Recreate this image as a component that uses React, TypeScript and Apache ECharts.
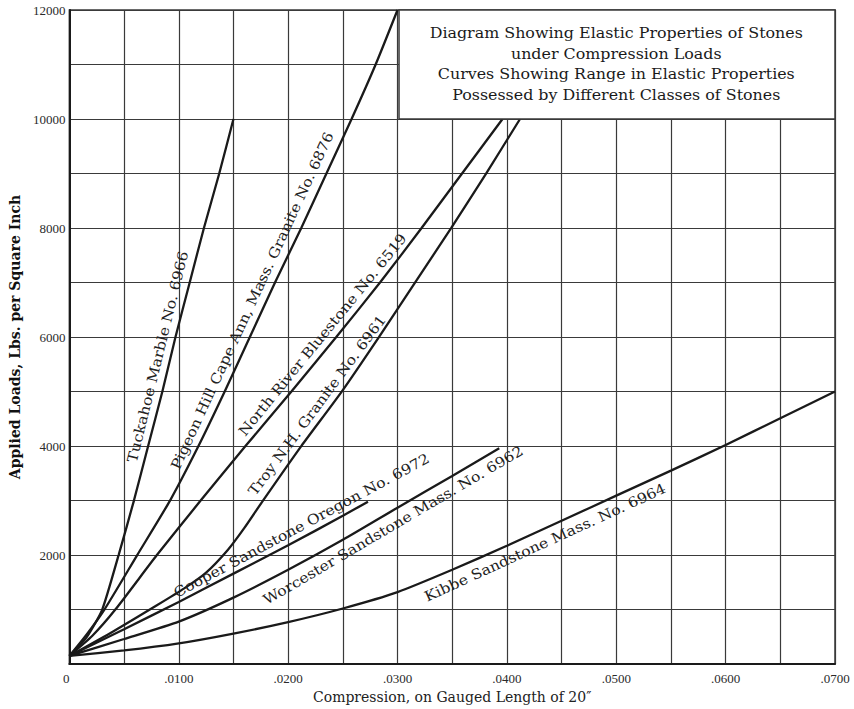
import React, { useEffect, useRef } from 'react';
import * as echarts from 'echarts';

const TITLE_LINES = [
  'Diagram Showing Elastic Properties of Stones',
  'under Compression Loads',
  'Curves Showing Range in Elastic Properties',
  'Possessed by Different Classes of Stones',
];
const X_AXIS_TITLE = 'Compression, on Gauged Length of 20\u2033';
const Y_AXIS_TITLE = 'Applied Loads, Lbs. per Square Inch';

const SERIES_NAMES = [
  'Tuckahoe Marble No. 6966',
  'Pigeon Hill Cape Ann, Mass. Granite No. 6876',
  'North River Bluestone No. 6519',
  'Troy N.H. Granite No. 6961',
  'Cooper Sandstone Oregon No. 6972',
  'Worcester Sandstone Mass. No. 6962',
  'Kibbe Sandstone Mass. No. 6964',
];

// [compression, load]
const tuckahoe: number[][] = [
  [0, 150], [0.0016, 500], [0.003, 1000], [0.0045, 2000], [0.0059, 3000], [0.0072, 4000],
  [0.0085, 5000], [0.0097, 6000], [0.011, 7000], [0.0123, 8000], [0.0137, 9000], [0.015, 10000],
];
const pigeonHill: number[][] = [
  [0, 150], [0.0016, 550], [0.0032, 1000], [0.0062, 2000], [0.0092, 3000], [0.0118, 4000],
  [0.0142, 5000], [0.0165, 6000], [0.0188, 7000], [0.0212, 8000], [0.0235, 9000],
  [0.0258, 10000], [0.028, 11000], [0.03, 12000],
];
const northRiver: number[][] = [
  [0, 150], [0.0021, 520], [0.0042, 1000], [0.008, 2000], [0.012, 3000], [0.0161, 4000],
  [0.0203, 5000], [0.0244, 6000], [0.0284, 7000], [0.0322, 8000], [0.0359, 9000], [0.0396, 10000],
];
const troy: number[][] = [
  [0, 150], [0.004, 600], [0.008, 1080], [0.0105, 1390], [0.0125, 1680], [0.0145, 2100],
  [0.016, 2500], [0.0177, 3000], [0.0212, 4000], [0.0249, 5000], [0.0283, 6000],
  [0.0316, 7000], [0.0349, 8000], [0.0381, 9000], [0.0412, 10000],
];
const cooper: number[][] = [
  [0, 150], [0.005, 640], [0.01, 1140], [0.015, 1660], [0.02, 2180], [0.025, 2720], [0.0273, 2980],
];
const worcester: number[][] = [
  [0, 150], [0.005, 460], [0.01, 780], [0.015, 1220], [0.02, 1730], [0.025, 2280],
  [0.03, 2870], [0.035, 3450], [0.0393, 3960],
];
const kibbe: number[][] = [
  [0, 150], [0.005, 250], [0.01, 380], [0.015, 560], [0.02, 770], [0.025, 1020], [0.03, 1320],
  [0.035, 1730], [0.04, 2170], [0.045, 2630], [0.05, 3090], [0.055, 3550], [0.06, 4020],
  [0.065, 4510], [0.07, 5000],
];

const SERIES_DATA = [tuckahoe, pigeonHill, northRiver, troy, cooper, worcester, kibbe];

// label placement along each curve: compression value of anchor, perpendicular offset (px, + = above)
const LABEL_LAYOUT = [
  { at: 0.0092, offset: 12.5 },
  { at: 0.0178, offset: 13 },
  { at: 0.024, offset: 12 },
  { at: 0.0235, offset: 11.5 },
  { at: 0.0217, offset: 11 },
  { at: 0.029, offset: -13 },
  { at: 0.043, offset: -13 },
];

const LINE_COLOR = '#1a1a1a';
const GRID_COLOR = '#3a3a3a';
const TEXT_COLOR = '#222222';
const SERIF = '"DejaVu Serif", serif';
const TICK_FONT = '"Liberation Serif", serif';

function interp(data: number[][], x: number): number {
  let i = 1;
  while (i < data.length - 1 && x > data[i][0]) i++;
  const a = data[i - 1];
  const b = data[i];
  return a[1] + ((b[1] - a[1]) * (x - a[0])) / (b[0] - a[0]);
}

export default function App() {
  const ref = useRef<HTMLDivElement>(null);

  useEffect(() => {
    document.body.style.margin = '0';
    if (!ref.current) return;
    const chart = echarts.init(ref.current, null, { renderer: 'svg' });

    const option: any = {
      animation: false,
      backgroundColor: '#ffffff',
      grid: {
        left: 65,
        right: 19,
        top: 10,
        bottom: 40,
        show: true,
        borderColor: GRID_COLOR,
        borderWidth: 1.5,
        backgroundColor: 'transparent',
      },
      xAxis: {
        type: 'value',
        min: 0,
        max: 0.07,
        interval: 0.01,
        name: X_AXIS_TITLE,
        nameLocation: 'middle',
        nameGap: 21,
        nameTextStyle: { fontFamily: SERIF, fontSize: 14, color: TEXT_COLOR },
        axisLine: { show: true, lineStyle: { color: LINE_COLOR, width: 2 } },
        axisTick: { show: false },
        axisLabel: {
          margin: 8,
          fontFamily: TICK_FONT,
          fontSize: 13,
          color: '#2a2a2a',
          alignMinLabel: 'right',
          formatter: (v: number) => {
            const n = Math.round(v * 10000);
            if (n === 0) return '0';
            return '.' + String(n).padStart(4, '0');
          },
        },
        splitLine: { show: true, lineStyle: { color: GRID_COLOR, width: 1.2 } },
        minorTick: { show: false, splitNumber: 2 },
        minorSplitLine: { show: true, lineStyle: { color: GRID_COLOR, width: 1.2 } },
      },
      yAxis: {
        type: 'value',
        min: 0,
        max: 12000,
        interval: 2000,
        name: Y_AXIS_TITLE,
        nameLocation: 'middle',
        nameGap: 44,
        nameTextStyle: { fontFamily: SERIF, fontSize: 14, fontWeight: 'bold', color: '#111' },
        axisLine: { show: true, lineStyle: { color: LINE_COLOR, width: 2 } },
        axisTick: { show: false },
        axisLabel: {
          margin: 4,
          fontFamily: TICK_FONT,
          fontSize: 13,
          color: '#2a2a2a',
          showMinLabel: false,
          formatter: (v: number) => (v === 0 ? '' : String(v)),
        },
        splitLine: { show: true, lineStyle: { color: GRID_COLOR, width: 1.2 } },
        minorTick: { show: false, splitNumber: 2 },
        minorSplitLine: { show: true, lineStyle: { color: GRID_COLOR, width: 1.2 } },
      },
      series: SERIES_DATA.map((d, i) => ({
        name: SERIES_NAMES[i],
        type: 'line',
        data: d,
        showSymbol: false,
        smooth: 0.2,
        lineStyle: { color: LINE_COLOR, width: 2.3 },
        z: 3,
      })),
    };

    chart.setOption(option);

    const toPx = (p: number[]) => chart.convertToPixel({ xAxisIndex: 0, yAxisIndex: 0 }, p) as number[];

    const graphics: any[] = [];

    // title box over the upper right corner of the grid
    const tl = toPx([0.03, 12000]);
    const br = toPx([0.07, 10000]);
    graphics.push({
      type: 'rect',
      shape: { x: tl[0] + 1.5, y: tl[1], width: br[0] - tl[0] - 1.5, height: br[1] - tl[1] },
      style: { fill: '#ffffff', stroke: GRID_COLOR, lineWidth: 1.5 },
      z: 10,
    });
    const cx = (tl[0] + br[0]) / 2;
    TITLE_LINES.forEach((t, i) => {
      graphics.push({
        type: 'text',
        x: cx,
        y: tl[1] + 23 + i * 20.7,
        scaleX: 1.06,
        style: {
          text: t,
          font: `15px ${SERIF}`,
          fill: '#1a1a1a',
          align: 'center',
          verticalAlign: 'middle',
        },
        z: 11,
      });
    });

    // curve labels
    SERIES_DATA.forEach((d, i) => {
      const { at, offset } = LABEL_LAYOUT[i];
      const h = 0.0008;
      const p = toPx([at, interp(d, at)]);
      const p1 = toPx([at - h, interp(d, at - h)]);
      const p2 = toPx([at + h, interp(d, at + h)]);
      const ang = Math.atan2(-(p2[1] - p1[1]), p2[0] - p1[0]);
      const nx = -Math.sin(ang);
      const ny = -Math.cos(ang);
      graphics.push({
        type: 'text',
        x: p[0] + nx * offset,
        y: p[1] + ny * offset,
        rotation: ang,
        scaleX: 1.12,
        style: {
          text: SERIES_NAMES[i],
          font: `14px ${SERIF}`,
          fill: TEXT_COLOR,
          align: 'center',
          verticalAlign: 'middle',
        },
        z: 12,
      });
    });

    chart.setOption({ graphic: graphics });

    return () => chart.dispose();
  }, []);

  return <div ref={ref} style={{ width: 854, height: 709 }} />;
}
